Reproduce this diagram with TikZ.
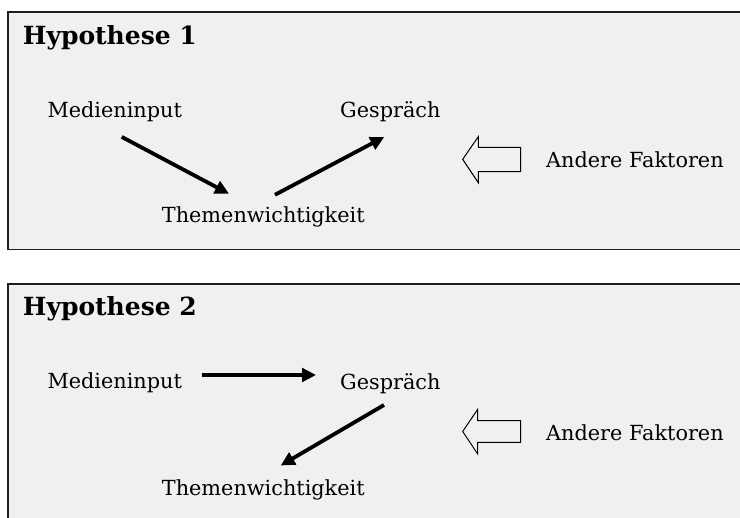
\documentclass[tikz,border=0pt]{standalone}
\usepackage{fontspec}
\setmainfont{DejaVu Serif}
\usetikzlibrary{arrows.meta}
\definecolor{panelbg}{HTML}{EFF0EF}
\definecolor{panelline}{HTML}{1E1E1E}
\tikzset{
  lbl/.style={anchor=base west, inner sep=0pt, text height=15pt, text depth=4pt, font=\fontsize{20.8}{25}\selectfont},
  ttl/.style={anchor=base west, inner sep=0pt, font=\fontsize{25}{29}\selectfont\bfseries},
  panel/.style={draw=panelline, line width=1.8pt, fill=panelbg},
  flow/.style={line width=3.8pt, -{Triangle[length=14pt,width=13.5pt]}},
  hollow/.style={draw=black, line width=1pt, fill=panelbg, line join=miter}
}
\begin{document}
\begin{tikzpicture}[x=1pt,y=-1pt]
\useasboundingbox (0,0) rectangle (740,518);
\clip (0,0) rectangle (740,518);
% panels
\draw[panel] (7.7,12.3) rectangle (760,249.5);
\draw[panel] (7.7,284.3) rectangle (760,540);
% ---- Hypothese 1
\node[ttl] (h1) at (22.7,45) {Hypothese 1};
\node[lbl] (m1) at (47.3,117.3) {Medieninput};
\node[lbl] (g1) at (340,117.3) {Gespräch};
\node[lbl] (t1) at (161.7,222.3) {Themenwichtigkeit};
\node[lbl] (f1) at (546,167.7) {Andere Faktoren};
\draw[flow] ([shift={(74.4,15.4)}]m1.south west) -- ([shift={(67.3,-13.3)}]t1.north west);
\draw[flow] ([shift={(113.3,-12.3)}]t1.north west) -- ([shift={(44.3,15.4)}]g1.south west);
\draw[hollow] (462.7,159.3) -- (478.3,136.7) -- (478.3,147.3) -- (520.7,147.3)
  -- (520.7,171.7) -- (478.3,171.7) -- (478.3,182.7) -- cycle;
% ---- Hypothese 2
\node[ttl] (h2) at (22.7,316) {Hypothese 2};
\node[lbl] (m2) at (47.3,389) {Medieninput};
\node[lbl] (g2) at (340,389.5) {Gespräch};
\node[lbl] (t2) at (161.7,496) {Themenwichtigkeit};
\node[lbl] (f2) at (546,441) {Andere Faktoren};
\draw[flow] ([shift={(154.4,-14)}]m2.base west) -- ([shift={(-24,-14.5)}]g2.base west);
\draw[flow] ([shift={(44,15.5)}]g2.base west) -- ([shift={(119,-15.3)}]t2.north west);
\draw[hollow] (462.7,431.5) -- (477.7,409.3) -- (477.7,420.7) -- (520.7,420.7)
  -- (520.7,442.3) -- (477.7,442.3) -- (477.7,454) -- cycle;
\end{tikzpicture}
\end{document}
